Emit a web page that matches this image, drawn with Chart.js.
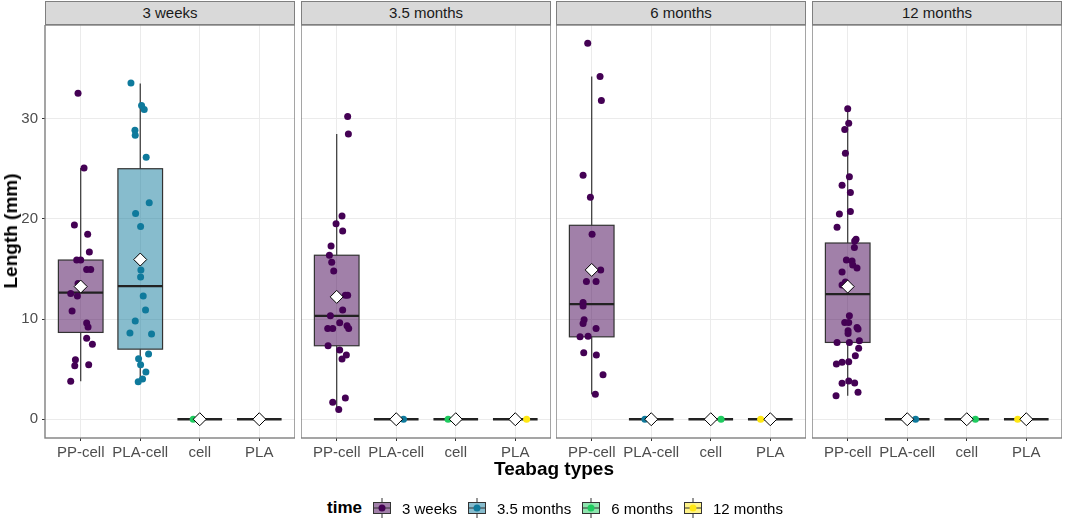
<!DOCTYPE html>
<html>
<head>
<meta charset="utf-8">
<script src="https://cdn.jsdelivr.net/npm/chart.js@4.4.1/dist/chart.umd.min.js"></script>
<style>
  body { margin: 0; background: #fff; font-family: "Liberation Sans", Arial, sans-serif; }
  #wrap { position: relative; width: 1065px; height: 520px; overflow: hidden; background: #fff; }
  .strip { position: absolute; top: 1px; height: 24px; background: #d9d9d9; border: 1.4px solid #7f7f7f;
           box-sizing: border-box; text-align: center; font-size: 15px; line-height: 22px; color: #1a1a1a; }
  .ytitle { position: absolute; left: 11px; top: 231px; transform: translate(-50%, -50%) rotate(-90deg);
            font-weight: bold; font-size: 19px; white-space: nowrap; color: #000; }
  .xtitle { position: absolute; left: 554px; top: 469px; transform: translate(-50%, -50%);
            font-weight: bold; font-size: 19px; white-space: nowrap; color: #000; }
  #legend { position: absolute; left: 327px; top: 497px; height: 22px; display: flex; align-items: center;
            font-size: 15px; color: #000; white-space: nowrap; }
  #legend b { font-size: 17px; margin-right: 11px; }
  #legend canvas { margin-right: 11px; }
  #legend span.lab { margin-right: 11px; }
</style>
</head>
<body>
<div id="wrap"></div>
<script>
// facets and categories
const periods = ['3 weeks', '3.5 months', '6 months', '12 months'];
const teabags = ['PP-cell', 'PLA-cell', 'cell', 'PLA'];
const yTicks = [0, 10, 20, 30];

// box stats per teabag: [lower whisker, q1, median, q3, upper whisker]
const box3w = [[3.8, 8.67, 12.65, 15.9, 25.1], [3.75, 7.0, 13.29, 25.02, 33.52], [0, 0, 0, 0, 0], [0, 0, 0, 0, 0]];
const box35m = [[0.96, 7.34, 10.33, 16.38, 28.5], [0, 0, 0, 0, 0], [0, 0, 0, 0, 0], [0, 0, 0, 0, 0]];
const box6m = [[2.49, 8.23, 11.49, 19.37, 34.22], [0, 0, 0, 0, 0], [0, 0, 0, 0, 0], [0, 0, 0, 0, 0]];
const box12m = [[2.35, 7.67, 12.49, 17.6, 31.0], [0, 0, 0, 0, 0], [0, 0, 0, 0, 0], [0, 0, 0, 0, 0]];

// means (diamonds)
const mean3w = [13.25, 15.95, 0, 0];
const mean35m = [12.22, 0, 0, 0];
const mean6m = [14.91, 0, 0, 0];
const mean12m = [13.25, 0, 0, 0];

// observed lengths (mm) per teabag
const lens3w = [
  [32.55, 25.1, 19.4, 18.47, 16.7, 15.9, 15.9, 14.95, 14.95, 13.55, 12.55, 12.3, 10.8, 9.6, 9.2, 8.1, 7.5, 5.95, 5.35, 5.45, 3.8],
  [33.59, 31.33, 30.93, 28.87, 28.37, 26.17, 21.63, 20.56, 19.24, 14.91, 14.21, 12.32, 10.92, 9.8, 8.6, 8.5, 6.51, 6.04, 5.44, 4.71, 4.02, 3.75],
  [0], [0]
];
const lens35m = [
  [30.23, 28.5, 20.29, 19.53, 18.8, 17.3, 16.37, 15.68, 14.81, 12.39, 12.39, 10.9, 10.33, 9.63, 9.07, 9.07, 9.33, 9.07, 7.34, 6.91, 6.41, 6.01, 2.12, 1.69, 0.96],
  [0], [0], [0]
];
const lens6m = [
  [37.54, 34.22, 31.83, 24.38, 22.16, 18.47, 14.91, 13.75, 13.75, 11.66, 11.32, 9.93, 9.57, 9.07, 8.23, 8.3, 6.64, 6.41, 4.45, 2.49],
  [0], [0], [0]
];
const lens12m = [
  [31.0, 29.56, 28.93, 26.57, 24.22, 23.38, 22.65, 20.49, 20.76, 19.17, 17.97, 17.8, 17.14, 15.91, 15.8, 15.4, 15.1, 14.7, 13.7, 13.4,
   10.33, 9.67, 9.67, 8.83, 8.57, 9.17, 9.0, 7.67, 7.67, 7.83, 7.1, 6.34, 5.51, 5.68, 5.74, 3.59, 3.82, 3.62, 2.35, 2.69],
  [0], [0], [0]
];

// horizontal jitter of each observation (category units)
const jit3w = [
  [-0.045, 0.056, -0.106, 0.117, 0.145, -0.067, 0, 0.10, 0.168, -0.045, -0.168, -0.056, -0.145, 0.10, 0.123, 0.10, 0.196, -0.089, -0.10, 0.134, -0.168],
  [-0.156, 0.022, 0.067, -0.089, -0.084, 0.10, 0.151, -0.078, 0.006, 0.011, 0.006, 0.05, 0.089, -0.084, -0.173, 0.19, 0.14, -0.028, 0.006, 0.095, 0.039, -0.034],
  [-0.11], [0]
];
const jit35m = [
  [0.184, 0.196, 0.089, -0.011, 0.10, -0.095, -0.123, -0.084, -0.05, 0.145, 0.184, 0.10, -0.106, 0.05, -0.151, -0.067, 0.173, 0.201, -0.145, 0.05, 0.162, 0.089, 0.145, -0.067, 0.034],
  [0.122], [-0.129], [0.19]
];
const jit6m = [
  [-0.067, 0.14, 0.162, -0.145, -0.022, 0.006, 0.151, -0.089, 0.073, -0.145, -0.145, -0.128, -0.145, 0.073, -0.196, -0.061, -0.134, 0.078, 0.19, 0.061],
  [-0.106], [0.173], [-0.162]
];
const jit12m = [
  [0, 0.017, -0.05, -0.039, 0.028, -0.095, 0.045, -0.14, 0.045, -0.179, 0.14, 0.117, 0.112, -0.022, 0.073, 0.084, 0.156, -0.095, -0.039, -0.095,
   0.028, -0.05, 0.017, 0.006, 0.006, 0.156, 0.173, -0.179, 0.028, 0.196, 0.184, 0.128, -0.19, -0.095, 0.017, -0.095, 0.017, 0.117, -0.196, 0.173],
  [0.14], [0.145], [-0.145]
];

const panels = [
  { box: box3w, mean: mean3w, lens: lens3w, jit: jit3w },
  { box: box35m, mean: mean35m, lens: lens35m, jit: jit35m },
  { box: box6m, mean: mean6m, lens: lens6m, jit: jit6m },
  { box: box12m, mean: mean12m, lens: lens12m, jit: jit12m }
];

// styling
const pointColors = ['#440154', '#0f7a9c', '#1fcb5f', '#ffe713'];
const boxFills = ['rgba(68,1,84,0.5)', 'rgba(15,122,156,0.5)', 'rgba(31,203,95,0.5)', 'rgba(255,231,19,0.5)'];
const FONT = '"Liberation Sans", Arial, sans-serif';
Chart.defaults.font.family = FONT;

const panelLeft = [45, 301, 556, 812];
const panelW = 250, panelTop = 25, panelH = 413, xAxisH = 24, yAxisW = 45;

const wrap = document.getElementById('wrap');

function boxPlugin(stats, means) {
  return {
    id: 'boxes',
    beforeDatasetsDraw(chart) {
      const { ctx, scales: { x, y } } = chart;
      ctx.save();
      stats.forEach((s, t) => {
        const [lo, q1, med, q3, hi] = s;
        const xl = x.getPixelForValue(t - 0.375), xr = x.getPixelForValue(t + 0.375), xc = x.getPixelForValue(t);
        ctx.strokeStyle = '#333';
        ctx.lineWidth = 1.2;
        ctx.beginPath();
        ctx.moveTo(xc, y.getPixelForValue(hi)); ctx.lineTo(xc, y.getPixelForValue(q3));
        ctx.moveTo(xc, y.getPixelForValue(q1)); ctx.lineTo(xc, y.getPixelForValue(lo));
        ctx.stroke();
        if (q3 > q1) {
          const yt = y.getPixelForValue(q3), yb = y.getPixelForValue(q1);
          ctx.fillStyle = boxFills[t];
          ctx.fillRect(xl, yt, xr - xl, yb - yt);
          ctx.strokeRect(xl, yt, xr - xl, yb - yt);
        }
        ctx.strokeStyle = '#222';
        ctx.lineWidth = 2.3;
        ctx.beginPath();
        ctx.moveTo(xl, y.getPixelForValue(med)); ctx.lineTo(xr, y.getPixelForValue(med));
        ctx.stroke();
      });
      ctx.restore();
    },
    afterDatasetsDraw(chart) {
      const { ctx, scales: { x, y }, chartArea: a } = chart;
      ctx.save();
      means.forEach((m, t) => {
        const px = x.getPixelForValue(t), py = y.getPixelForValue(m), r = 6.5;
        ctx.beginPath();
        ctx.moveTo(px, py - r); ctx.lineTo(px + r, py); ctx.lineTo(px, py + r); ctx.lineTo(px - r, py);
        ctx.closePath();
        ctx.fillStyle = '#fff';
        ctx.fill();
        ctx.strokeStyle = '#000';
        ctx.lineWidth = 1;
        ctx.stroke();
      });
      ctx.strokeStyle = '#7f7f7f';
      ctx.lineWidth = 1.4;
      ctx.strokeRect(a.left, a.top, a.right - a.left, a.bottom - a.top);
      ctx.restore();
    }
  };
}

panels.forEach((p, i) => {
  const first = i === 0;
  const canvas = document.createElement('canvas');
  const left = first ? 0 : panelLeft[i];
  const width = first ? yAxisW + panelW : panelW;
  const height = panelH + xAxisH;
  canvas.width = width; canvas.height = height;
  canvas.style.cssText = `position:absolute;left:${left}px;top:${panelTop}px;width:${width}px;height:${height}px;`;
  wrap.appendChild(canvas);

  const strip = document.createElement('div');
  strip.className = 'strip';
  strip.style.left = panelLeft[i] + 'px';
  strip.style.width = panelW + 'px';
  strip.textContent = periods[i];
  wrap.appendChild(strip);

  const datasets = teabags.map((name, t) => ({
    label: name,
    data: p.lens[t].map((v, k) => ({ x: t + p.jit[t][k], y: v })),
    backgroundColor: pointColors[t],
    borderWidth: 0,
    pointRadius: 3.5
  }));

  new Chart(canvas, {
    type: 'scatter',
    data: { datasets },
    options: {
      responsive: false,
      animation: false,
      events: [],
      layout: { padding: 0, autoPadding: false },
      plugins: { legend: { display: false }, tooltip: { enabled: false } },
      scales: {
        x: {
          type: 'linear',
          min: -0.6,
          max: 3.6,
          afterBuildTicks: s => { s.ticks = teabags.map((_, t) => ({ value: t })); },
          afterFit: s => { s.height = xAxisH; s.paddingLeft = 0; s.paddingRight = 0; },
          border: { display: false },
          grid: { color: '#ebebeb', lineWidth: 1, tickColor: '#333', tickLength: 3 },
          ticks: {
            autoSkip: false, maxRotation: 0, padding: 3,
            color: '#4d4d4d', font: { size: 15 },
            callback: v => teabags[v]
          }
        },
        y: {
          min: -1.875,
          max: 39.375,
          afterBuildTicks: s => { s.ticks = yTicks.map(v => ({ value: v })); },
          afterFit: s => { s.width = first ? yAxisW : 0; s.paddingTop = 0; s.paddingBottom = 0; },
          border: { display: false },
          grid: { color: '#ebebeb', lineWidth: 1, tickColor: '#333', tickLength: 3, drawTicks: first },
          ticks: { display: first, padding: 4, color: '#4d4d4d', font: { size: 15 } }
        }
      }
    },
    plugins: [boxPlugin(p.box, p.mean)]
  });
});

// axis titles
const yt = document.createElement('div');
yt.className = 'ytitle';
yt.textContent = 'Length (mm)';
wrap.appendChild(yt);
const xt = document.createElement('div');
xt.className = 'xtitle';
xt.textContent = 'Teabag types';
wrap.appendChild(xt);

// legend
const legend = document.createElement('div');
legend.id = 'legend';
legend.innerHTML = '<b>time</b>';
periods.forEach((name, t) => {
  const key = document.createElement('canvas');
  key.width = 18; key.height = 22;
  const c = key.getContext('2d');
  c.strokeStyle = '#333';
  c.lineWidth = 1;
  c.beginPath();
  c.moveTo(9, 1); c.lineTo(9, 5.5);
  c.moveTo(9, 16.5); c.lineTo(9, 21);
  c.stroke();
  c.fillStyle = boxFills[t];
  c.fillRect(0.5, 5.5, 17, 11);
  c.strokeRect(0.5, 5.5, 17, 11);
  c.beginPath();
  c.moveTo(0.5, 11); c.lineTo(17.5, 11);
  c.stroke();
  c.fillStyle = pointColors[t];
  c.beginPath();
  c.arc(9, 11, 3.5, 0, Math.PI * 2);
  c.fill();
  legend.appendChild(key);
  const lab = document.createElement('span');
  lab.className = 'lab';
  lab.textContent = name;
  legend.appendChild(lab);
});
wrap.appendChild(legend);
</script>
</body>
</html>
